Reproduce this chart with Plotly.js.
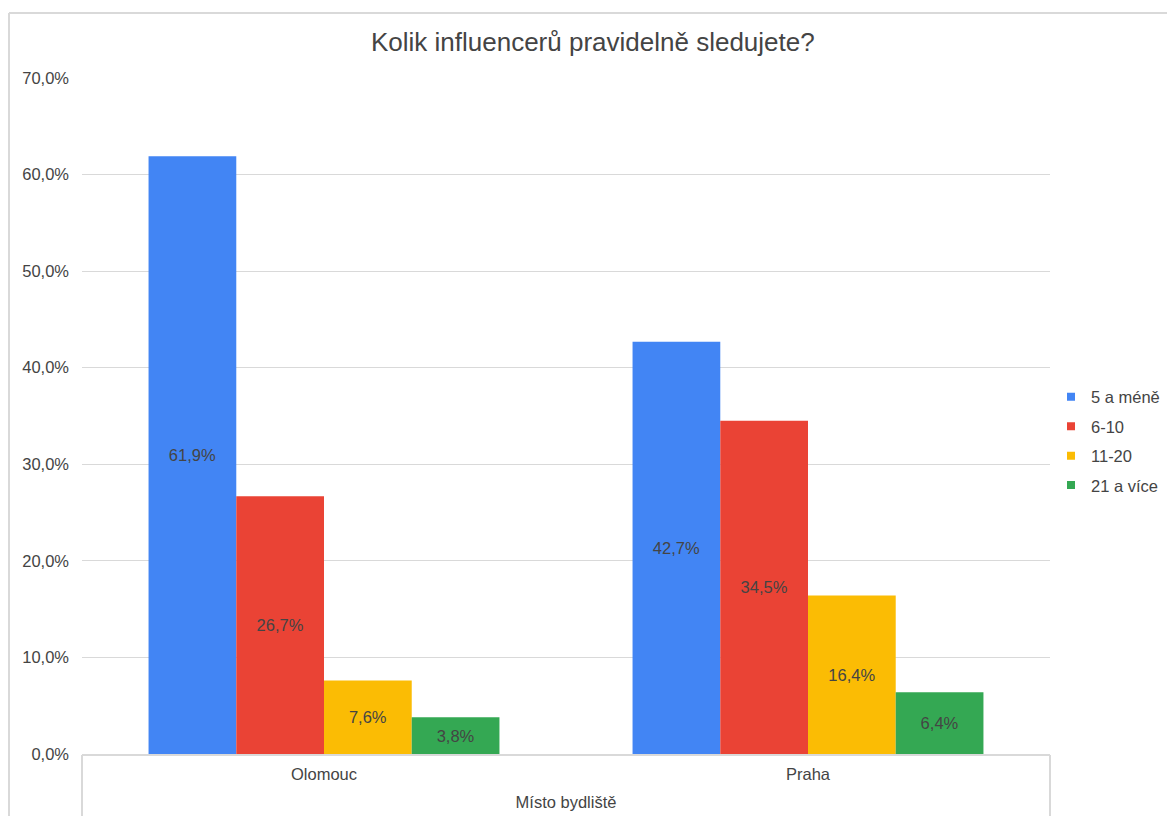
<!DOCTYPE html>
<html>
<head>
<meta charset="utf-8">
<script src="https://cdn.plot.ly/plotly-3.0.1.min.js"></script>
<style>html,body{margin:0;padding:0;background:#fff;}#chart{width:1167px;height:816px;}</style>
</head>
<body>
<div id="chart"></div>
<script>
const categories = ["Olomouc", "Praha"];
const seriesNames = ["5 a méně", "6-10", "11-20", "21 a více"];
const values5aMene = [0.619, 0.427];
const values6to10 = [0.267, 0.345];
const values11to20 = [0.076, 0.164];
const values21aVice = [0.038, 0.064];
const labels5aMene = ["61,9%", "42,7%"];
const labels6to10 = ["26,7%", "34,5%"];
const labels11to20 = ["7,6%", "16,4%"];
const labels21aVice = ["3,8%", "6,4%"];
const colors = ["#4285F4", "#EA4335", "#FBBC04", "#34A853"];

const allValues = [values5aMene, values6to10, values11to20, values21aVice];
const allLabels = [labels5aMene, labels6to10, labels11to20, labels21aVice];
const FONT = '"Liberation Sans", Arial, sans-serif';
const FS = 16.5;

const traces = [];
allValues.forEach((vals, i) => {
  traces.push({
    type: 'bar', x: categories, y: vals, name: seriesNames[i],
    marker: {color: colors[i], line: {width: 0}},
    text: allLabels[i], textposition: 'inside', insidetextanchor: 'middle',
    textangle: 0, constraintext: 'none',
    textfont: {family: FONT, size: FS, color: '#444444'},
    showlegend: false, hoverinfo: 'skip'
  });
});
seriesNames.forEach((n, i) => {
  traces.push({
    type: 'scatter', mode: 'markers', x: [null], y: [null], name: n, legendgroup: 'g' + i,
    marker: {symbol: 'square', size: 8, color: colors[i]}, showlegend: true
  });
});

const L = 82, R = 1050, T = 78, B = 754, W = 1167, H = 816;
const px = v => (v - L) / (R - L);
const py = v => (B - v) / (B - T);
const lineC = '#d9d9d9';

const layout = {
  width: W, height: H,
  margin: {l: L, r: W - R, t: T, b: H - B, pad: 0, autoexpand: false},
  paper_bgcolor: '#ffffff', plot_bgcolor: '#ffffff',
  separators: ', ',
  font: {family: FONT, size: FS, color: '#444444'},
  title: {text: 'Kolik influencerů pravidelně sledujete?', font: {family: FONT, size: 26, color: '#444444'},
          x: 0.508, xanchor: 'center', y: 1 - 42 / H, yanchor: 'middle'},
  barmode: 'group', bargap: 0.275, bargroupgap: 0,
  xaxis: {type: 'category', showgrid: false, showline: false, zeroline: false, ticks: '', automargin: false,
          tickfont: {family: FONT, size: FS, color: '#444444'}, ticklabelstandoff: 8,
          title: {text: 'Místo bydliště', font: {family: FONT, size: FS, color: '#444444'}, standoff: 14}},
  yaxis: {range: [0, 0.7], dtick: 0.1, tick0: 0, tickformat: '.1%', showgrid: true, gridcolor: lineC, gridwidth: 1,
          zeroline: false, showline: false, ticks: '', ticklabelstandoff: 12, automargin: false,
          tickfont: {family: FONT, size: FS, color: '#444444'}},
  legend: {x: px(1051), xanchor: 'left', y: py(441), yanchor: 'middle', font: {family: FONT, size: FS, color: '#444444'},
           itemwidth: 30, tracegroupgap: 5, bgcolor: 'rgba(0,0,0,0)'},
  shapes: [
    {type: 'line', xref: 'paper', yref: 'paper', x0: px(9), x1: px(1200), y0: py(13), y1: py(13), line: {color: lineC, width: 2}},
    {type: 'line', xref: 'paper', yref: 'paper', x0: px(9), x1: px(9), y0: py(13), y1: py(830), line: {color: lineC, width: 2}},
    {type: 'line', xref: 'paper', yref: 'paper', x0: 0, x1: 1, y0: py(755), y1: py(755), line: {color: lineC, width: 2}},
    {type: 'line', xref: 'paper', yref: 'paper', x0: 0, x1: 0, y0: py(755), y1: py(830), line: {color: lineC, width: 2}},
    {type: 'line', xref: 'paper', yref: 'paper', x0: 1, x1: 1, y0: py(755), y1: py(830), line: {color: lineC, width: 2}}
  ]
};
Plotly.newPlot('chart', traces, layout, {displayModeBar: false, staticPlot: true});
</script>
</body>
</html>
